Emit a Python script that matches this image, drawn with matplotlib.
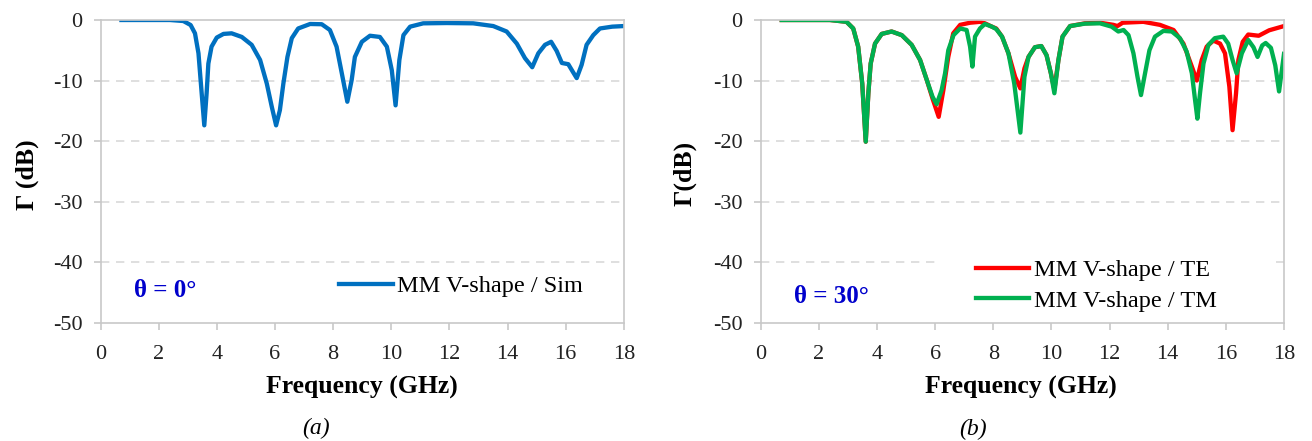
import matplotlib
matplotlib.use('Agg')
import matplotlib.pyplot as plt

plt.rcParams['font.family'] = ['Liberation Serif', 'DejaVu Serif']
plt.rcParams['axes.unicode_minus'] = False

# (a) theta = 0, simulated
freq_a = [0.72, 2.39, 2.85, 3.10, 3.25, 3.37, 3.48, 3.57, 3.65, 3.71, 3.82, 4.0, 4.23, 4.51, 4.86, 5.2, 5.49,
          5.72, 5.89, 6.04, 6.17, 6.29, 6.43, 6.58, 6.8, 7.21, 7.61, 7.89, 8.12, 8.3, 8.49, 8.64, 8.75, 8.99,
          9.27, 9.61, 9.85, 10.02, 10.15, 10.28, 10.42, 10.65, 11.1, 11.91, 12.82, 13.51, 13.97, 14.32, 14.6,
          14.85, 15.06, 15.29, 15.5, 15.69, 15.87, 16.09, 16.24, 16.38, 16.55, 16.72, 16.95, 17.18, 17.6, 18.0]
gamma_a = [0.0, 0.0, -0.17, -0.83, -2.2, -5.5, -12.1, -17.4, -12.1, -7.2, -4.4, -2.9, -2.3, -2.2, -2.8, -4.1,
           -6.6, -10.5, -14.3, -17.4, -14.9, -10.5, -6.1, -3.0, -1.4, -0.66, -0.7, -1.65, -4.4, -8.8, -13.5,
           -9.9, -6.1, -3.6, -2.6, -2.8, -4.4, -8.3, -14.1, -6.6, -2.5, -1.1, -0.55, -0.5, -0.55, -1.0, -1.9,
           -3.9, -6.3, -7.8, -5.5, -4.1, -3.6, -5.1, -7.1, -7.3, -8.5, -9.6, -7.4, -4.1, -2.5, -1.4, -1.1, -1.0]

# (b) theta = 30, TE polarisation
freq_te = [0.72, 2.38, 2.95, 3.18, 3.35, 3.49, 3.61, 3.7, 3.78, 3.93, 4.16, 4.5, 4.85, 5.19, 5.48, 5.71, 5.91,
           6.12, 6.28, 6.45, 6.62, 6.86, 7.2, 7.54, 7.71, 7.95, 8.1, 8.3, 8.52, 8.75, 8.93, 9.07, 9.21, 9.43,
           9.65, 9.83, 9.98, 10.1, 10.24, 10.38, 10.64, 11.15, 11.67, 12.13, 12.27, 12.45, 13.16, 13.73, 14.2,
           14.54, 14.83, 15.0, 15.17, 15.34, 15.57, 15.8, 15.97, 16.12, 16.23, 16.35, 16.43, 16.58, 16.77,
           17.13, 17.49, 18.0]
gamma_te = [0.0, 0.0, -0.3, -1.4, -4.4, -10.5, -20.1, -12.1, -7.2, -3.9, -2.3, -1.9, -2.5, -4.1, -6.6, -9.9,
            -13.0, -16.0, -11.6, -6.1, -2.2, -0.8, -0.45, -0.3, -0.55, -1.1, -1.4, -2.75, -5.5, -9.4, -11.3,
            -8.0, -6.1, -4.5, -4.3, -5.8, -8.8, -11.5, -6.6, -2.75, -1.0, -0.55, -0.45, -0.8, -1.0, -0.45,
            -0.3, -0.8, -1.65, -3.9, -7.7, -10.0, -6.6, -4.4, -3.4, -3.9, -5.5, -11.0, -18.2, -12.1, -6.6,
            -3.6, -2.4, -2.6, -1.7, -1.0]

# (b) theta = 30, TM polarisation
freq_tm = [0.72, 2.38, 2.95, 3.18, 3.35, 3.49, 3.61, 3.7, 3.78, 3.93, 4.16, 4.5, 4.85, 5.19, 5.48, 5.71, 5.91,
           6.05, 6.22, 6.34, 6.45, 6.63, 6.86, 7.08, 7.2, 7.28, 7.37, 7.54, 7.71, 7.95, 8.1, 8.3, 8.52, 8.72,
           8.93, 9.07, 9.21, 9.43, 9.65, 9.83, 9.98, 10.1, 10.24, 10.38, 10.64, 11.15, 11.67, 12.07, 12.3,
           12.48, 12.65, 12.82, 12.96, 13.08, 13.22, 13.37, 13.56, 13.85, 14.14, 14.42, 14.65, 14.83, 14.94,
           15.02, 15.11, 15.23, 15.4, 15.62, 15.91, 16.08, 16.23, 16.37, 16.55, 16.77, 16.95, 17.09, 17.25,
           17.37, 17.55, 17.7, 17.83, 17.92, 18.0]
gamma_tm = [0.0, 0.0, -0.3, -1.4, -4.4, -10.5, -20.1, -12.1, -7.2, -3.9, -2.3, -1.9, -2.5, -4.1, -6.6, -9.9,
            -12.7, -13.9, -11.6, -8.8, -5.0, -2.5, -1.4, -1.65, -4.4, -7.7, -2.75, -1.4, -0.66, -1.1, -1.5,
            -2.75, -5.5, -10.5, -18.6, -9.4, -6.1, -4.5, -4.3, -5.8, -8.8, -12.1, -6.6, -2.75, -1.0, -0.6,
            -0.55, -1.1, -1.9, -1.65, -2.5, -5.5, -9.4, -12.4, -8.8, -5.0, -2.75, -1.8, -1.9, -3.0, -5.2,
            -8.8, -13.2, -16.3, -12.1, -7.2, -4.1, -3.0, -2.75, -3.9, -6.6, -8.8, -5.5, -3.3, -4.5, -6.1,
            -4.2, -3.8, -4.6, -7.5, -11.8, -8.5, -5.6]

x_ticks = [0, 2, 4, 6, 8, 10, 12, 14, 16, 18]
y_ticks = [0, -10, -20, -30, -40, -50]

W, H = 1312, 441
fig = plt.figure(figsize=(W / 100, H / 100), dpi=100)
ax1 = fig.add_axes([100.5 / W, 1 - 322.7 / H, 523.3 / W, 302.7 / H])
ax2 = fig.add_axes([760.8 / W, 1 - 322.7 / H, 523.2 / W, 302.7 / H])

grid_kw = dict(color='#d9d9d9', lw=1.2, ls=(0, (5, 4)), zorder=0)
for ax in (ax1, ax2):
    ax.set_xlim(0, 18)
    ax.set_ylim(-50, 0)
    ax.set_xticks(x_ticks)
    ax.set_yticks(y_ticks)
    for s in ax.spines.values():
        s.set_color('#c8c8c8')
        s.set_linewidth(1.2)
    ax.tick_params(axis='both', colors='#c8c8c8', labelcolor='#222222', labelsize=16, length=5, width=1.2)
    ax.tick_params(axis='x', pad=11)
    ax.tick_params(axis='y', pad=8)
    for yv in [-10, -20, -30]:
        ax.axhline(yv, **grid_kw)

ax1.axhline(-40, **grid_kw)
# legend box hides part of this gridline in (b)
ax2.axhline(-40, xmax=0.332, **grid_kw)
ax2.axhline(-40, xmin=0.984, **grid_kw)

ax1.plot(freq_a, gamma_a, color='#0070C0', lw=3.1, solid_joinstyle='round', label='MM V-shape / Sim')
ax2.plot(freq_te, gamma_te, color='#FF0000', lw=3.1, solid_joinstyle='round', label='MM V-shape / TE')
ax2.plot(freq_tm, gamma_tm, color='#00B050', lw=3.1, solid_joinstyle='round', label='MM V-shape / TM')

leg_kw = dict(loc='center left', frameon=False, fontsize=17.5, handlelength=2.2, handletextpad=0.2,
              borderpad=0, borderaxespad=0)
ax1.legend(bbox_to_anchor=(0.456, 0.121), **leg_kw)
ax2.legend(bbox_to_anchor=(0.411, 0.123), labelspacing=0.35, **leg_kw)

ax1.text(0.064, 0.108, 'θ = 0°', transform=ax1.transAxes, color='#0000CC', fontsize=18,
         fontweight='bold', va='center', ha='left')
ax2.text(0.063, 0.087, 'θ = 30°', transform=ax2.transAxes, color='#0000CC', fontsize=18,
         fontweight='bold', va='center', ha='left')

lab_kw = dict(ha='center', va='center', fontsize=18.5, fontweight='bold')
fig.text(361.5 / W, 1 - 387 / H, 'Frequency (GHz)', **lab_kw)
fig.text(1021 / W, 1 - 387 / H, 'Frequency (GHz)', **lab_kw)
fig.text(27 / W, 1 - 175 / H, 'Γ (dB)', rotation=90, **lab_kw)
fig.text(685 / W, 1 - 173 / H, 'Γ(dB)', rotation=90, **lab_kw)
fig.text(316 / W, 1 - 428 / H, '(a)', ha='center', va='center', fontsize=17, style='italic')
fig.text(973 / W, 1 - 429 / H, '(b)', ha='center', va='center', fontsize=17, style='italic')

fig.savefig('out.png', dpi=100)
